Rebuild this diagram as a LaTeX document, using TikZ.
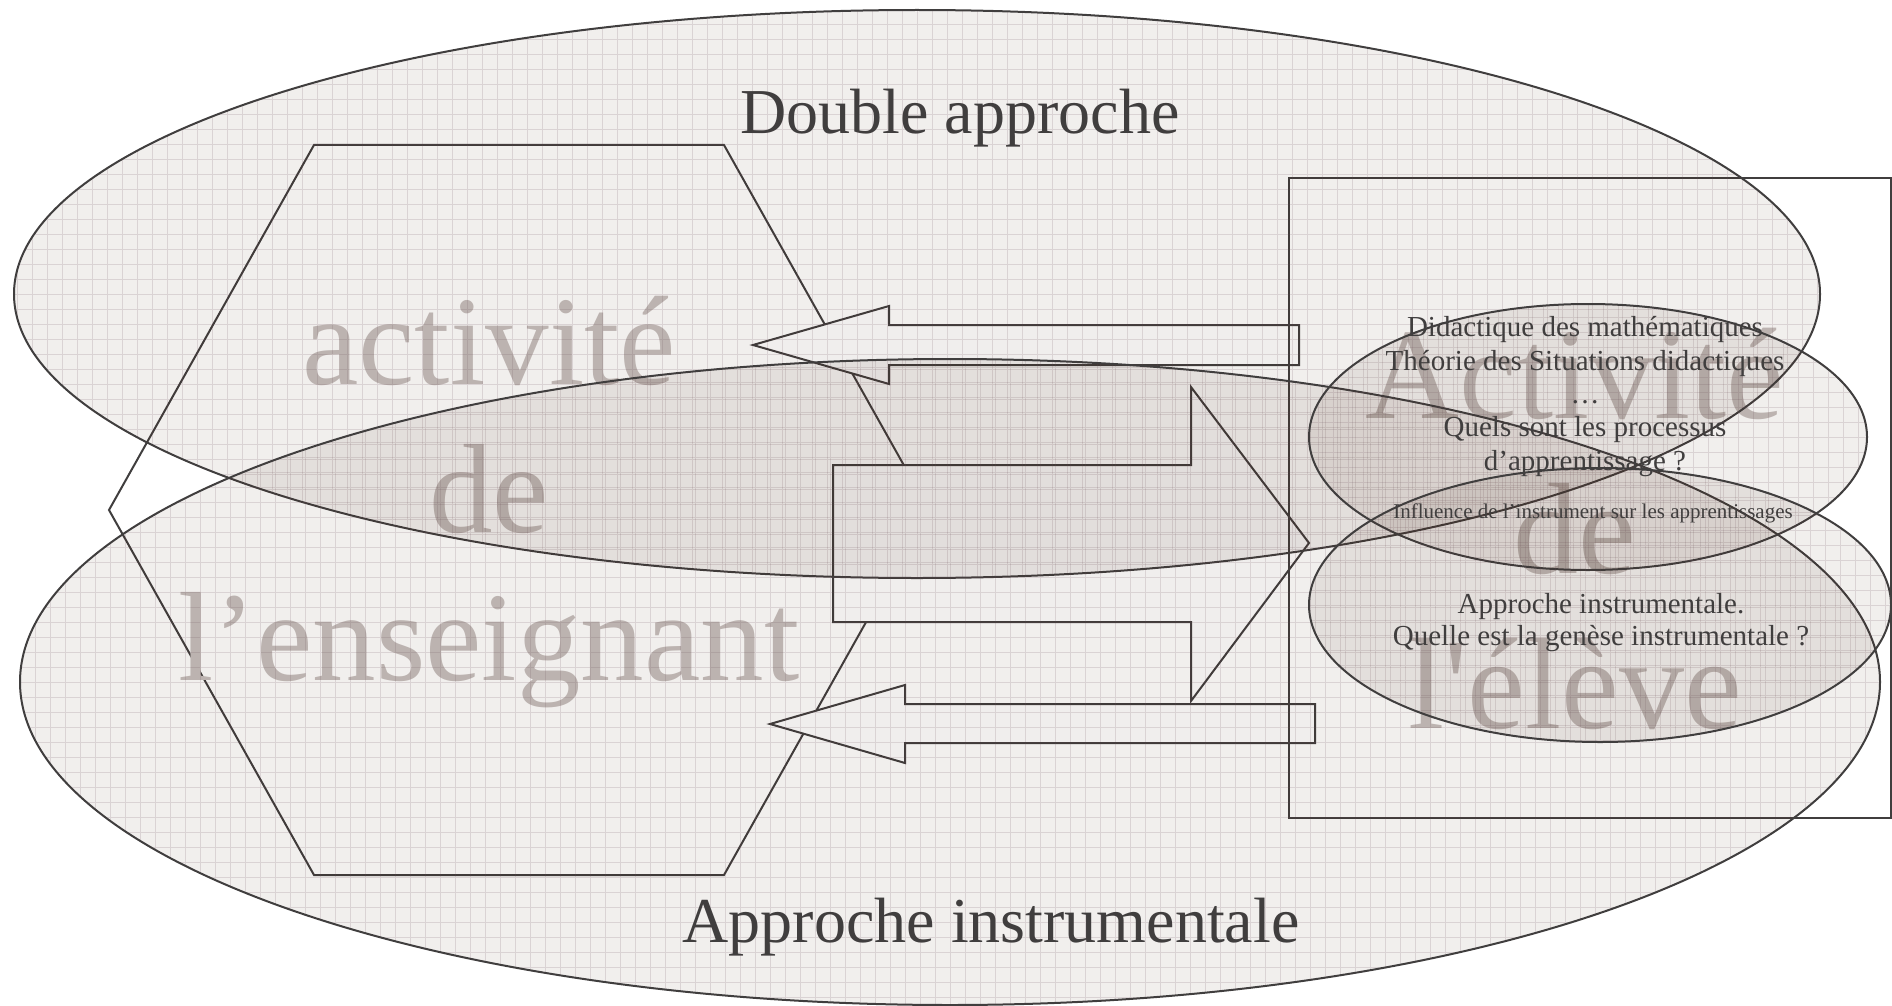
\documentclass[tikz,border=0pt]{standalone}
\usepackage{fontspec}
\setmainfont{Liberation Serif}
\usetikzlibrary{positioning, shapes.geometric}
\definecolor{trait}{RGB}{64,62,62}
\definecolor{voile}{RGB}{65,35,15}
\definecolor{quadrillage}{RGB}{110,80,90}
\definecolor{filigrane}{RGB}{198,191,189}
\tikzset{
  approche/.style={ellipse, draw=trait, line width=2pt, inner sep=0pt, outer sep=0pt,
    fill=voile, fill opacity=0.075,
    path picture={\draw[quadrillage, line width=0.6pt, draw opacity=0.17]
      (path picture bounding box.south west) grid[step=15pt] (path picture bounding box.north east);}},
  contour/.style={draw=trait, line width=2pt, line join=miter},
  fleche/.style={contour, fill=white},
  filigrane/.style={text=filigrane, align=center, anchor=base},
  legende/.style={text=trait, align=center, anchor=base}
}

\begin{document}
\begin{tikzpicture}[x=1pt, y=-1pt]
  \useasboundingbox (0,0) rectangle (1892,1006);
  \draw[contour] (314,145) -- (724,145) -- (929,510) -- (724,875) -- (314,875) -- (109,510) -- cycle;
  \node[filigrane, font=\fontsize{127}{148}\selectfont] (activite_ens) at (489,680) {activité\\de\\l’enseignant};
  \node[filigrane, font=\fontsize{130}{155}\selectfont] (activite_eleve) at (1575,728) {Activité\\de\\l\textquotesingle élève};
  \draw[fleche] (753,345) -- (889,306) -- (889,325) -- (1299,325) -- (1299,365) -- (889,365) -- (889,384) -- cycle;
  \draw[fleche] (833,465) -- (1191,465) -- (1191,387) -- (1309,543) -- (1191,701) -- (1191,622) -- (833,622) -- cycle;
  \draw[fleche] (770,724) -- (905,685) -- (905,704) -- (1315,704) -- (1315,743) -- (905,743) -- (905,763) -- cycle;
  \node[contour, inner sep=0pt, outer sep=0pt, minimum width=602pt, minimum height=640pt] (cadre_eleve) at (1590,498) {};
  \node[approche, minimum width=1806pt, minimum height=568pt] (double_approche) at (917,294) {};
  \node[approche, minimum width=1860pt, minimum height=646pt] (approche_instr) at (950,682) {};
  \node[approche, minimum width=558pt, minimum height=266pt] (didactique) at (1588,437) {};
  \node[approche, minimum width=582pt, minimum height=274pt] (genese) at (1600,605) {};
  \node[legende, font=\fontsize{64}{70}\selectfont] (titre_double) at (960,134) {Double approche};
  \node[legende, font=\fontsize{64}{70}\selectfont] (titre_instr) at (991,942) {Approche instrumentale};
  \node[legende, font=\fontsize{29}{33.3}\selectfont] (questions) at (1585,470)
    {Didactique des mathématiques\\Théorie des Situations didactiques\\…\\Quels sont les processus\\d’apprentissage ?};
  \node[legende, font=\fontsize{21}{24}\selectfont] (influence) at (1593,518) {Influence de l’instrument sur les apprentissages};
  \node[legende, font=\fontsize{29}{32}\selectfont] (genese_txt) at (1601,645)
    {Approche instrumentale.\\Quelle est la genèse instrumentale ?};
\end{tikzpicture}
\end{document}
